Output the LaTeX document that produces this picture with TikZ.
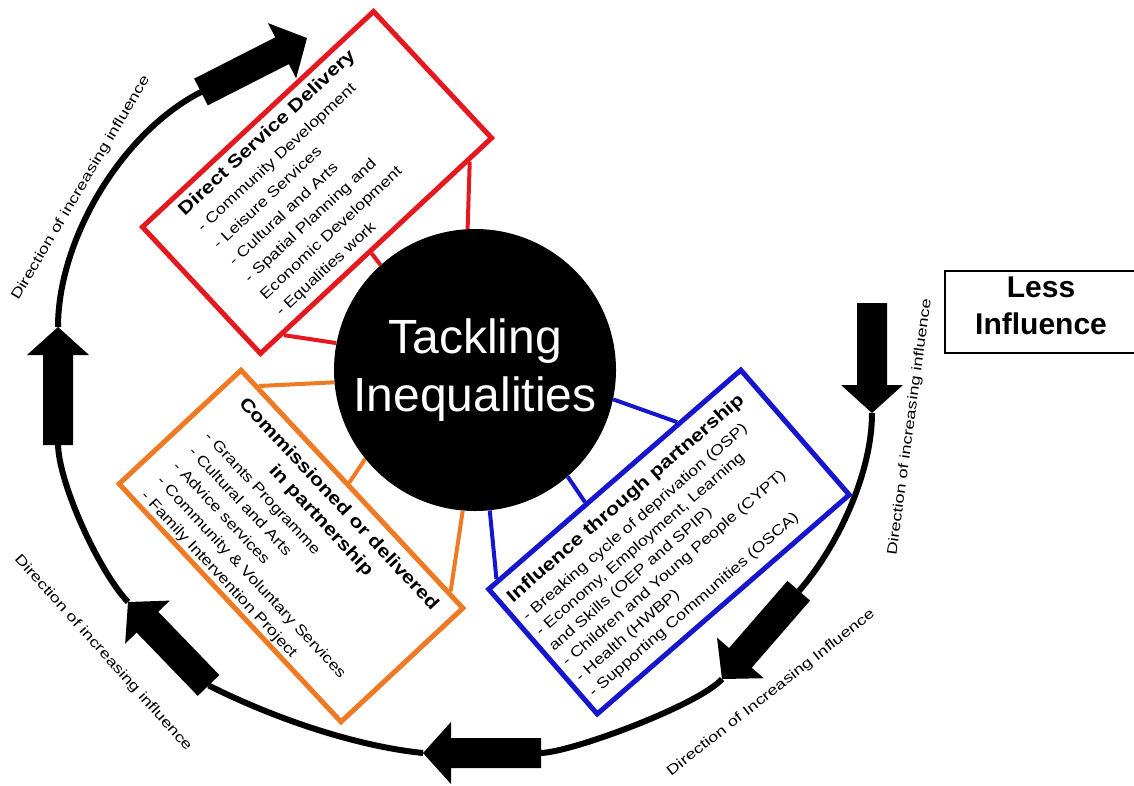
\documentclass[tikz,border=0pt]{standalone}
\usepackage{fontspec}
\setmainfont{Liberation Sans}
\newfontfamily\boxfont[FakeStretch=1.2]{Liberation Sans}
\newfontfamily\labelfont[FakeStretch=1.3]{Liberation Sans}
\usetikzlibrary{calc}

\definecolor{boxred}{RGB}{228,24,30}
\definecolor{boxorange}{RGB}{240,122,36}
\definecolor{boxblue}{RGB}{22,22,206}

\tikzset{
  panel/.style={draw, line width=3.75pt, fill=white, rectangle, inner sep=0pt},
  link/.style={line width=3pt},
  paneltitle/.style={inner sep=0pt, font={\boxfont\bfseries\fontsize{13.5pt}{18pt}\selectfont}},
  panelitems/.style={inner sep=0pt, align=left},
  ring/.style={line width=4.5pt},
  dirlabel/.style={inner sep=0pt, font={\labelfont\fontsize{10.5pt}{12pt}\selectfont}},
}

% block arrow: tip point, direction (degrees), shaft length
\newcommand{\flowarrow}[3]{%
  \fill[black, shift={(#1)}, rotate=#2]
    (0,0) -- (-28,-31) -- (-28,-15) -- ({-28-#3},-15) -- ({-28-#3},15)
    -- (-28,15) -- (-28,31) -- cycle;}

\begin{document}
\begin{tikzpicture}[x=0.75pt, y=-0.75pt]
\useasboundingbox (0,0) rectangle (1134,785);

% tips and tails of the block arrows on the ring
\coordinate (tipR)  at (872,413);   \coordinate (tailLR) at (799,591);
\coordinate (tipLR) at (722,679);   \coordinate (tailB)  at (540,753);
\coordinate (tipB)  at (423,753);   \coordinate (tailBL) at (208.6,685.4);
\coordinate (tipBL) at (128,602);   \coordinate (tailL)  at (58,443);
\coordinate (tipL)  at (58,327);    \coordinate (tailT)  at (201,92);

% ring segments between the arrows
\draw[ring] (tipR)  .. controls (872,473) and (838,546) .. (tailLR);
\draw[ring] (tipLR) .. controls (699,705) and (570,753) .. (tailB);
\draw[ring] (tipB)  .. controls (354,746) and (271,717) .. (tailBL);
\draw[ring] (tipBL) .. controls (100,573) and (58,483)  .. (tailL);
\draw[ring] (tipL)  .. controls (58,240)  and (121,133) .. (tailT);

\flowarrow{872,413}{-90}{82}
\flowarrow{722,679}{229}{89}
\flowarrow{423,753}{180}{90}
\flowarrow{128,602}{134}{88}
\flowarrow{58,327}{90}{90}
\flowarrow{307,38}{27}{91}

% ring labels
\node[dirlabel, rotate=59.4] (lblTL) at (81,188) {Direction of increasing influence};
\node[dirlabel, rotate=82.3] (lblR) at (910,427) {Direction of increasing influence};
\node[dirlabel, rotate=38.2] (lblBR) at (771,693) {Direction of Increasing Influence};
\node[dirlabel, rotate=-48.1] (lblBL) at (103,653) {Direction of increasing influence};

% centre
\node[circle, fill=black, minimum size=211.5pt, inner sep=0pt, text=white,
      align=center, font={\fontsize{36pt}{43.5pt}\selectfont}] (core) at (475,370)
      {Tackling\\Inequalities};

% direct service delivery
\begin{scope}[shift={(317,182.5)}, rotate=43, transform shape]
  \node[panel, draw=boxred, minimum width=237pt, minimum height=129.75pt] (dsd) at (0,0) {};
  \node[paneltitle, anchor=north west] (dsdtitle) at (-120,-78.5) {Direct Service Delivery};
  \node[panelitems, anchor=north west, font={\boxfont\fontsize{11.1pt}{17.25pt}\selectfont}]
    (dsditems) at (-118,-52) {- Community Development\\- Leisure Services\\- Cultural and Arts\\- Spatial Planning and\\Economic Development\\- Equalities work};
\end{scope}

% commissioned or delivered in partnership
\begin{scope}[shift={(291,546)}, rotate=-47, transform shape]
  \node[panel, draw=boxorange, minimum width=244pt, minimum height=125pt] (cdp) at (0,0) {};
  \node[paneltitle, anchor=north, align=center] (cdptitle) at (2,-71.5) {Commissioned or delivered\\in partnership};
  \node[panelitems, anchor=north west, font={\boxfont\fontsize{11.1pt}{16.3pt}\selectfont}]
    (cdpitems) at (-139,-21) {- Grants Programme\\- Cultural and Arts\\- Advice services\\- Community \& Voluntary Services\\- Family Intervention Project};
\end{scope}

% influence through partnership
\begin{scope}[shift={(669,542)}, rotate=41, transform shape]
  \node[panel, draw=boxblue, minimum width=250.5pt, minimum height=124pt] (itp) at (0,0) {};
  \node[paneltitle, anchor=north west] (itptitle) at (-158,-69.5) {Influence through partnership};
  \node[panelitems, anchor=north west, font={\boxfont\fontsize{11.1pt}{15.15pt}\selectfont}]
    (itpitems) at (-159,-44) {- Breaking cycle of deprivation (OSP)\\- Economy, Employment, Learning\\and Skills (OEP and SPIP)\\- Children and Young People (CYPT)\\- Health (HWBP)\\- Supporting Communities (OSCA)};
\end{scope}

% links from the centre
\draw[link, boxred] ($(dsd.south west)!0.892!(dsd.south east)$) -- (core.93);
\draw[link, boxred] ($(dsd.south west)!0.474!(dsd.south east)$) -- (core.132);
\draw[link, boxred] ($(dsd.south west)!0.10!(dsd.south east)$) -- (core.169);
\draw[link, boxorange] ($(cdp.north west)!0.08!(cdp.north east)$) -- (core.185);
\draw[link, boxorange] ($(cdp.north west)!0.48!(cdp.north east)$) -- (core.219);
\draw[link, boxorange] ($(cdp.north west)!0.93!(cdp.north east)$) -- (core.265);
\draw[link, boxblue] ($(itp.north west)!0.75!(itp.north east)$) -- (core.348);
\draw[link, boxblue] ($(itp.north west)!0.39!(itp.north east)$) -- (core.311);
\draw[link, boxblue] ($(itp.north west)!0.044!(itp.north east)$) -- (core.276);

% legend box
\node[draw, line width=1.5pt, minimum width=146.25pt, minimum height=61.5pt, inner sep=0pt]
  (lessbox) at (1042.5,312) {};
\node[align=center, inner sep=0pt, font={\bfseries\fontsize{22.5pt}{27.75pt}\selectfont}]
  (lesstext) at (1041,306) {Less\\Influence};
\end{tikzpicture}
\end{document}
